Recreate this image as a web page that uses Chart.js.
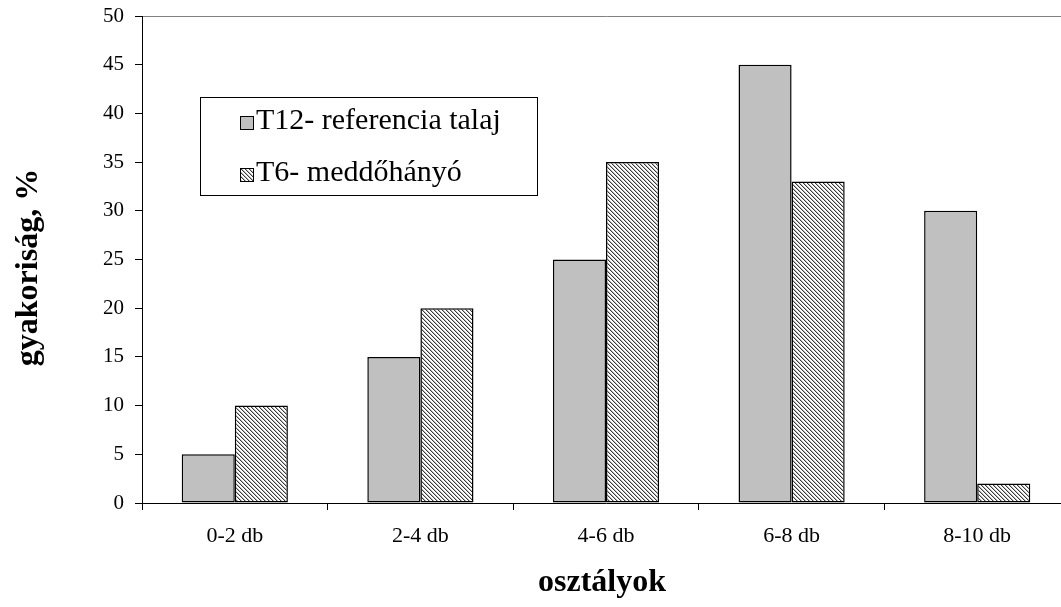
<!DOCTYPE html>
<html>
<head>
<meta charset="utf-8">
<script src="https://cdn.jsdelivr.net/npm/chart.js@4.4.0/dist/chart.umd.min.js"></script>
<style>
  html, body { margin: 0; padding: 0; background: #fff; overflow: hidden; }
  #wrap { width: 1070px; height: 607px; position: relative; }
</style>
</head>
<body>
<div id="wrap"><canvas id="chart-1"></canvas></div>
<script>
const categories = ["0-2 db", "2-4 db", "4-6 db", "6-8 db", "8-10 db"];
const seriesNames = ["T12- referencia talaj", "T6- meddőhányó"];
const t12Values = [5, 15, 25, 45, 30];
const t6Values = [10, 20, 35, 33, 2];
const yTicks = [0, 5, 10, 15, 20, 25, 30, 35, 40, 45, 50];

const serif = "'Liberation Serif', 'Times New Roman', serif";

// diagonal hatch like the Excel pattern fill
function makeHatch() {
  const c = document.createElement("canvas");
  c.width = 8; c.height = 8;
  const g = c.getContext("2d");
  const img = g.createImageData(8, 8);
  for (let y = 0; y < 8; y++) {
    for (let x = 0; x < 8; x++) {
      const m = (((x - y) % 4) + 4) % 4;
      let v = 255;
      if (m === 0) v = 60;
      else if (m === 1) v = 185;
      const i = (y * 8 + x) * 4;
      img.data[i] = v; img.data[i + 1] = v; img.data[i + 2] = v; img.data[i + 3] = 255;
    }
  }
  g.putImageData(img, 0, 0);
  return g.createPattern(c, "repeat");
}
const hatch = makeHatch();

const boxLegend = {
  id: "boxLegend",
  afterDraw(chart) {
    const ctx = chart.ctx;
    ctx.save();
    ctx.fillStyle = "#fff";
    ctx.fillRect(200, 97, 337, 98);
    ctx.strokeStyle = "#000";
    ctx.lineWidth = 1;
    ctx.strokeRect(200.5, 97.5, 337, 98);
    const rows = [116, 168];
    chart.data.datasets.forEach((ds, i) => {
      const y = rows[i];
      ctx.fillStyle = ds.backgroundColor;
      ctx.fillRect(240, y, 13, 13);
      ctx.strokeStyle = "#000";
      ctx.strokeRect(240.5, y + 0.5, 13, 13);
      ctx.fillStyle = "#000";
      ctx.font = "30px " + serif;
      ctx.textBaseline = "alphabetic";
      ctx.fillText(ds.label, 256, y + 13);
    });
    ctx.restore();
  }
};

const ctx1 = document.getElementById("chart-1").getContext("2d");
const myChart1 = new Chart(ctx1, {
  type: "bar",
  data: {
    labels: categories,
    datasets: [
      {
        label: seriesNames[0],
        data: t12Values,
        backgroundColor: "#c0c0c0",
        borderColor: "#000",
        borderWidth: 1.5,
        borderSkipped: false,
      },
      {
        label: seriesNames[1],
        data: t6Values,
        backgroundColor: hatch,
        borderColor: "#000",
        borderWidth: 1.5,
        borderSkipped: false,
      },
    ],
  },
  options: {
    responsive: true,
    maintainAspectRatio: false,
    animation: false,
    layout: { padding: { top: 16, right: 0, left: 0, bottom: 0 } },
    plugins: {
      legend: { display: false },
      tooltip: { enabled: false },
    },
    datasets: {
      bar: { categoryPercentage: 0.572, barPercentage: 1 },
    },
    scales: {
      x: {
        offset: true,
        grid: {
          offset: true,
          drawOnChartArea: false,
          drawTicks: true,
          tickLength: 7,
          tickColor: "#000",
        },
        border: { display: true, color: "#000", width: 1 },
        ticks: {
          color: "#000",
          font: { family: serif, size: 22 },
          padding: 13,
        },
        title: {
          display: true,
          text: "osztályok\u00a0",
          color: "#000",
          font: { family: serif, size: 32, weight: "bold" },
          padding: { top: 0, bottom: 5 },
        },
        afterFit(scale) { scale.height = 104; },
      },
      y: {
        min: 0,
        max: 50,
        afterBuildTicks(scale) { scale.ticks = yTicks.map(v => ({ value: v })); },
        grid: {
          color: (c) => (c.tick && c.tick.value === 50 ? "#808080" : "rgba(0,0,0,0)"),
          tickColor: "#000",
          tickLength: 7,
        },
        border: { display: true, color: "#000", width: 1 },
        ticks: {
          color: "#000",
          font: { family: serif, size: 21 },
          padding: 11,
        },
        title: {
          display: true,
          text: "gyakoriság, %\u00a0\u00a0",
          color: "#000",
          font: { family: serif, size: 32, weight: "bold" },
          padding: { top: 10, bottom: 0 },
        },
        afterFit(scale) {
          scale.width = 142;
          scale.paddingTop = 0;
          scale.paddingBottom = 0;
        },
      },
    },
  },
  plugins: [boxLegend],
});
</script>
</body>
</html>
